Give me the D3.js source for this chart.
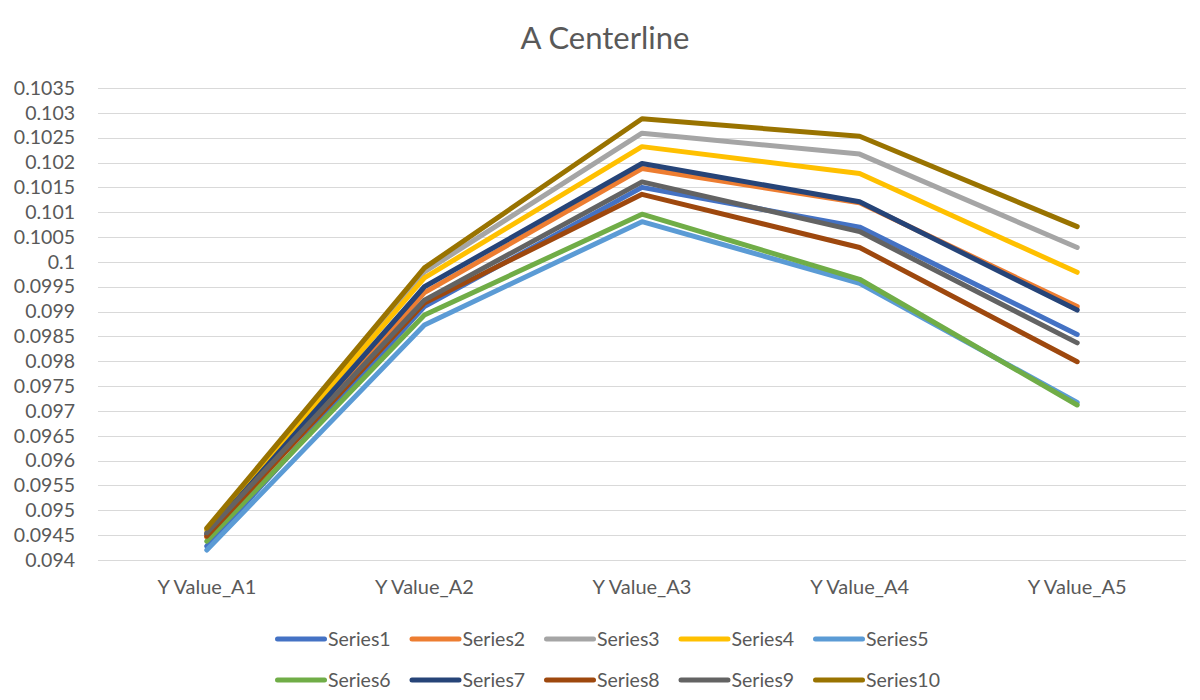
<!DOCTYPE html>
<html><head><meta charset="utf-8">
<script src="https://cdn.jsdelivr.net/npm/d3@7"></script>
<style>body{margin:0;background:#fff;} svg{display:block;font-family:Lato,"Open Sans",sans-serif;}</style>
</head><body>
<svg id="c" width="1200" height="700"></svg>
<script>
const categories = ["Y Value_A1","Y Value_A2","Y Value_A3","Y Value_A4","Y Value_A5"];
const seriesNames = ["Series1","Series2","Series3","Series4","Series5","Series6","Series7","Series8","Series9","Series10"];
const series1  = [0.09428, 0.09910, 0.10150, 0.10070, 0.09854];
const series2  = [0.09446, 0.09938, 0.10188, 0.10119, 0.09910];
const series3  = [0.09462, 0.09980, 0.10259, 0.10217, 0.10029];
const series4  = [0.09460, 0.09968, 0.10232, 0.10178, 0.09979];
const series5  = [0.09420, 0.09873, 0.10081, 0.09957, 0.09717];
const series6  = [0.09438, 0.09893, 0.10096, 0.09965, 0.09712];
const series7  = [0.09452, 0.09950, 0.10198, 0.10121, 0.09903];
const series8  = [0.09448, 0.09917, 0.10136, 0.10029, 0.09799];
const series9  = [0.09455, 0.09923, 0.10161, 0.10061, 0.09837];
const series10 = [0.09464, 0.09988, 0.10288, 0.10253, 0.10071];
const yTicks = [0.094,0.0945,0.095,0.0955,0.096,0.0965,0.097,0.0975,0.098,0.0985,0.099,0.0995,0.1,0.1005,0.101,0.1015,0.102,0.1025,0.103,0.1035];
const colors = ["#4472C4","#ED7D31","#A5A5A5","#FFC000","#5B9BD5","#70AD47","#264478","#9E480E","#636363","#997300"];
const allSeries = [series1,series2,series3,series4,series5,series6,series7,series8,series9,series10];

const svg = d3.select("#c");
const L = 98, R = 1186, T = 88, B = 560;
const x = d3.scaleBand().domain(categories).range([L, R]);
const y = d3.scaleLinear().domain([0.094, 0.1035]).range([B, T]);
const txt = "#595959";

svg.append("text").attr("x", 605).attr("y", 49).attr("text-anchor","middle")
  .attr("font-size", 31).attr("fill", txt).text("A Centerline");

// gridlines
svg.append("g").selectAll("line").data(yTicks).join("line")
  .attr("x1", L).attr("x2", R).attr("y1", d => Math.round(y(d))+0.5).attr("y2", d => Math.round(y(d))+0.5)
  .attr("stroke", "#d9d9d9").attr("stroke-width", 1);

// y axis labels
const yAxis = d3.axisLeft(y).tickValues(yTicks).tickSize(0).tickPadding(0)
  .tickFormat(d => String(+d.toFixed(4)));
const gy = svg.append("g").attr("transform", `translate(75,0)`).call(yAxis);
gy.select(".domain").remove();
gy.selectAll("text").attr("font-size", 19.5).attr("fill", txt).attr("font-family","Lato,sans-serif");

// x axis labels
const xAxis = d3.axisBottom(x).tickSize(0).tickPadding(0);
const gx = svg.append("g").attr("transform", `translate(0,${B+20})`).call(xAxis);
gx.select(".domain").remove();
gx.selectAll("text").attr("font-size", 20).attr("fill", txt).attr("font-family","Lato,sans-serif");

const line = d3.line().x((d,i) => x(categories[i]) + x.bandwidth()/2).y(d => y(d));
svg.append("g").selectAll("path").data(allSeries).join("path")
  .attr("d", d => line(d)).attr("fill","none")
  .attr("stroke", (d,i) => colors[i]).attr("stroke-width", 5)
  .attr("stroke-linecap","round").attr("stroke-linejoin","round");

// legend
const lg = svg.append("g");
seriesNames.forEach((n,i) => {
  const col = i % 5, row = Math.floor(i / 5);
  const lx = 272 + col * 134.5, ly = 639 + row * 41;
  lg.append("line").attr("x1", lx+5.5).attr("x2", lx+52.5).attr("y1", ly).attr("y2", ly)
    .attr("stroke", colors[i]).attr("stroke-width", 5).attr("stroke-linecap","round");
  lg.append("text").attr("x", lx+56).attr("y", ly+7).attr("font-size", 19.5).attr("fill", txt).text(n);
});
</script>
</body></html>
